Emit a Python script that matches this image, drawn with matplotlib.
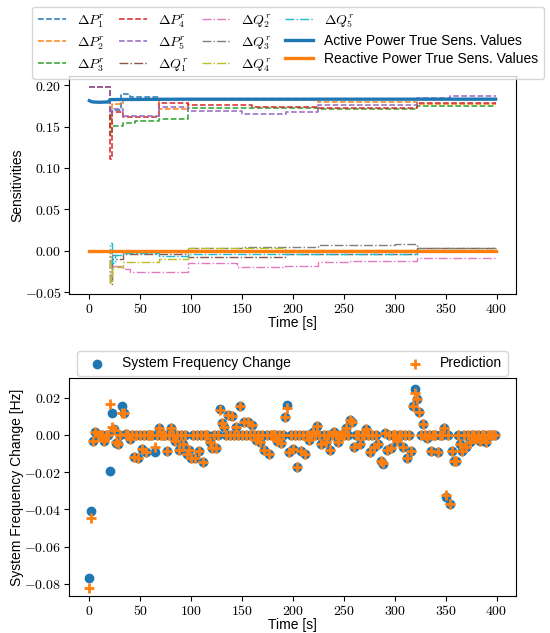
import numpy as np
import matplotlib
matplotlib.use("Agg")
import matplotlib.pyplot as plt
from matplotlib.ticker import FuncFormatter, MultipleLocator

plt.rcParams['font.family'] = ['Liberation Sans', 'DejaVu Sans']
plt.rcParams['mathtext.fontset'] = 'cm'

# --- estimated sensitivities (step values, held until the next time stamp) ---
t_p1 = [0, 20, 22, 31, 40, 68, 399]
p1 = [0.198, 0.160, 0.170, 0.189, 0.186, 0.183, 0.183]
t_p2 = [0, 20, 22, 33, 68, 97, 225, 322, 399]
p2 = [0.198, 0.150, 0.1767, 0.183, 0.171, 0.1815, 0.1795, 0.177, 0.177]
t_p3 = [0, 20, 22, 33, 45, 68, 97, 225, 322, 399]
p3 = [0.198, 0.140, 0.151, 0.154, 0.157, 0.159, 0.1727, 0.1707, 0.1747, 0.1747]
t_p4 = [0, 20, 22, 33, 68, 97, 160, 225, 322, 399]
p4 = [0.198, 0.111, 0.167, 0.162, 0.1787, 0.1755, 0.1735, 0.172, 0.178, 0.178]
t_p5 = [0, 20, 22, 33, 68, 97, 150, 193, 225, 322, 354, 399]
p5 = [0.198, 0.165, 0.171, 0.163, 0.174, 0.169, 0.1655, 0.1675, 0.176, 0.185, 0.1867, 0.1867]

t_q1 = [0, 20, 22, 33, 97, 192, 322, 399]
q1 = [0.0, -0.040, -0.010, -0.004, -0.0074, -0.004, 0.0035, 0.0035]
t_q2 = [0, 20, 22, 33, 40, 97, 145, 192, 225, 256, 322, 354, 399]
q2 = [0.0, -0.030, -0.0185, -0.0223, -0.026, -0.0151, -0.0196, -0.018, -0.0135,
      -0.0123, -0.009, -0.008, -0.008]
t_q3 = [0, 20, 22, 33, 97, 150, 225, 300, 322, 399]
q3 = [0.0, -0.035, -0.005, -0.001, 0.003, 0.005, 0.007, 0.0087, 0.0039, 0.0039]
t_q4 = [0, 20, 22, 33, 68, 97, 192, 322, 399]
q4 = [0.0, -0.038, -0.020, -0.0135, -0.010, 0.003, 0.001, 0.0005, 0.0005]
t_q5 = [0, 20, 22, 25, 33, 68, 97, 322, 399]
q5 = [0.0, 0.009, -0.015, -0.005, -0.002, -0.006, -0.0034, 0.0, 0.0]

# --- true sensitivities ---
t_true = [0, 2, 5, 10, 15, 19, 20, 21, 30, 60, 100, 200, 300, 399]
act_true = [0.1812, 0.1800, 0.1795, 0.1793, 0.1795, 0.1797, 0.1822, 0.1825,
            0.1826, 0.1828, 0.1830, 0.1830, 0.1830, 0.1830]
react_true = [0.0, 0.0, 0.0, 0.0, 0.0, 0.0, 0.0, 0.0, 0.0, 0.0, 0.0, 0.0, 0.0, 0.0]

# --- frequency change samples (every 2 s), non-zero ones listed ---
t_samples = np.arange(0, 400, 2)
ev_t = [0, 2, 4, 6, 14, 20, 22, 24, 26, 28, 32, 34, 36, 40, 44, 48, 52, 56, 64,
        68, 76, 80, 84, 88, 92, 96, 98, 100, 104, 108, 112, 118, 120, 124, 128,
        130, 132, 136, 140, 144, 148, 152, 156, 160, 164, 168, 172, 176, 184,
        188, 192, 194, 196, 200, 204, 208, 212, 216, 220, 224, 228, 232, 236,
        240, 244, 252, 256, 258, 260, 266, 272, 276, 280, 284, 286, 288, 290,
        292, 296, 302, 308, 312, 316, 318, 320, 322, 324, 328, 332, 336, 342,
        348, 350, 354, 356, 358, 360, 364, 366, 370, 374, 380, 384, 390, 396]
ev_freq = [-0.0771, -0.0408, -0.0035, 0.0018, -0.0035, -0.0192, 0.0119, 0.0030,
           -0.0045, -0.0050, 0.0153, 0.0117, 0.0005, -0.0020, -0.0120, -0.0123,
           -0.0075, -0.0090, -0.0090, 0.0036, -0.0084, 0.0038, -0.0035, -0.0080,
           -0.0050, -0.0102, -0.0080, -0.0123, -0.0123, -0.0086, -0.0148, -0.0040,
           -0.0070, -0.0070, 0.0140, 0.0065, 0.0040, 0.0108, 0.0100, 0.0045,
           0.0158, 0.0072, 0.0072, 0.0054, -0.0027, -0.0040, -0.0080, -0.0105,
           -0.0031, -0.0045, 0.0099, 0.0160, -0.0090, -0.0075, -0.0170, -0.0085,
           -0.0103, -0.0025, 0.0018, 0.0050, -0.0050, -0.0040, -0.0080, 0.0018,
           -0.0040, 0.0038, 0.0081, 0.0068, -0.0066, -0.0050, 0.0032, -0.0090,
           -0.0065, -0.0050, -0.0139, -0.0157, 0.0008, -0.0080, -0.0070, -0.0030,
           -0.0065, -0.0125, -0.0084, 0.0158, 0.0248, 0.0194, 0.0122, 0.0059,
           -0.0018, -0.0084, -0.0090, 0.0036, -0.0336, -0.0369, -0.0084, -0.0139,
           -0.0139, -0.0050, -0.0084, -0.0065, -0.0036, -0.0020, -0.0030, -0.0040,
           0.0002]
ev_pred = [-0.0822, -0.0447, -0.0035, 0.0015, -0.0030, 0.0167, 0.0041, 0.0025,
           -0.0040, -0.0048, 0.0118, 0.0120, 0.0005, -0.0020, -0.0120, -0.0123,
           -0.0075, -0.0090, -0.0065, 0.0036, -0.0084, 0.0038, -0.0035, -0.0080,
           -0.0050, -0.0100, -0.0080, -0.0123, -0.0123, -0.0086, -0.0148, -0.0040,
           -0.0070, -0.0070, 0.0135, 0.0065, 0.0040, 0.0108, 0.0100, 0.0045,
           0.0158, 0.0072, 0.0072, 0.0054, -0.0027, -0.0040, -0.0080, -0.0105,
           -0.0031, -0.0045, 0.0099, 0.0145, -0.0090, -0.0075, -0.0170, -0.0085,
           -0.0103, -0.0025, 0.0018, 0.0050, -0.0050, -0.0040, -0.0080, 0.0018,
           -0.0040, 0.0038, 0.0081, 0.0068, -0.0066, -0.0050, 0.0032, -0.0090,
           -0.0065, -0.0050, -0.0139, -0.0150, 0.0008, -0.0080, -0.0070, -0.0030,
           -0.0065, -0.0125, -0.0084, 0.0158, 0.0224, 0.0194, 0.0122, 0.0059,
           -0.0018, -0.0084, -0.0090, 0.0036, -0.0322, -0.0369, -0.0084, -0.0139,
           -0.0139, -0.0050, -0.0084, -0.0065, -0.0036, -0.0020, -0.0030, -0.0040,
           0.0002]

freq = np.zeros(len(t_samples))
pred = np.zeros(len(t_samples))
idx = np.searchsorted(t_samples, ev_t)
freq[idx] = ev_freq
pred[idx] = ev_pred

fig = plt.figure(figsize=(5.5, 6.33), dpi=100)
ax1 = fig.add_axes([0.1255, 0.5355, 0.8125, 0.3445])
ax2 = fig.add_axes([0.1255, 0.0585, 0.8125, 0.3443])

# tick labels typeset in Computer Modern
tick_fmt = FuncFormatter(lambda v, p: r'$\mathrm{%s}$' % ('%.2f' % v).replace('-0.00', '0.00'))
x_fmt = FuncFormatter(lambda v, p: r'$\mathrm{%d}$' % round(v))

p_series = [(t_p1, p1), (t_p2, p2), (t_p3, p3), (t_p4, p4), (t_p5, p5)]
q_series = [(t_q1, q1), (t_q2, q2), (t_q3, q3), (t_q4, q4), (t_q5, q5)]
for i, (tt, vv) in enumerate(p_series):
    ax1.plot(tt, vv, ls='--', lw=1.1, color='C%d' % i, drawstyle='steps-post',
             label=r'$\Delta P_{%d}^r$' % (i + 1))
for i, (tt, vv) in enumerate(q_series):
    ax1.plot(tt, vv, ls='-.', lw=1.0, color='C%d' % (i + 5), drawstyle='steps-post',
             label=r'$\Delta Q_{%d}^r$' % (i + 1))
ax1.plot(t_true, act_true, color='C0', lw=2.4, label='Active Power True Sens. Values')
ax1.plot(t_true, react_true, color='C1', lw=2.4, label='Reactive Power True Sens. Values')

for ax in (ax1, ax2):
    ax.set_xlim(-20, 419)
    ax.xaxis.set_major_locator(MultipleLocator(50))
    ax.xaxis.set_major_formatter(x_fmt)
    ax.yaxis.set_major_formatter(tick_fmt)
    ax.tick_params(labelsize=10, pad=2)

ax1.set_ylim(-0.052, 0.211)
ax1.yaxis.set_major_locator(MultipleLocator(0.05))
ax1.set_xlabel('Time [s]', fontsize=10, labelpad=0)
ax1.set_ylabel('Sensitivities', fontsize=10, labelpad=0)
ax1.legend(ncol=4, loc='lower center', bbox_to_anchor=(0.49, 0.985), fontsize=10,
           handlelength=2.0, columnspacing=1.0, borderaxespad=0.0,
           labelspacing=0.3)

ax2.scatter(t_samples, freq, s=36, color='C0', label='System Frequency Change', zorder=2)
ax2.scatter(t_samples, pred, s=50, marker='+', color='C1', linewidths=2,
            label='Prediction', zorder=3)
ax2.set_ylim(-0.0866, 0.0306)
ax2.yaxis.set_major_locator(MultipleLocator(0.02))
ax2.set_xlabel('Time [s]', fontsize=10, labelpad=0)
ax2.set_ylabel('System Frequency Change [Hz]', fontsize=10, labelpad=0)
ax2.legend(ncol=2, loc='lower left', bbox_to_anchor=(0.018, 1.01, 0.964, 0.1),
           mode='expand', fontsize=10, borderaxespad=0.0)

fig.savefig('out.png', dpi=100)
